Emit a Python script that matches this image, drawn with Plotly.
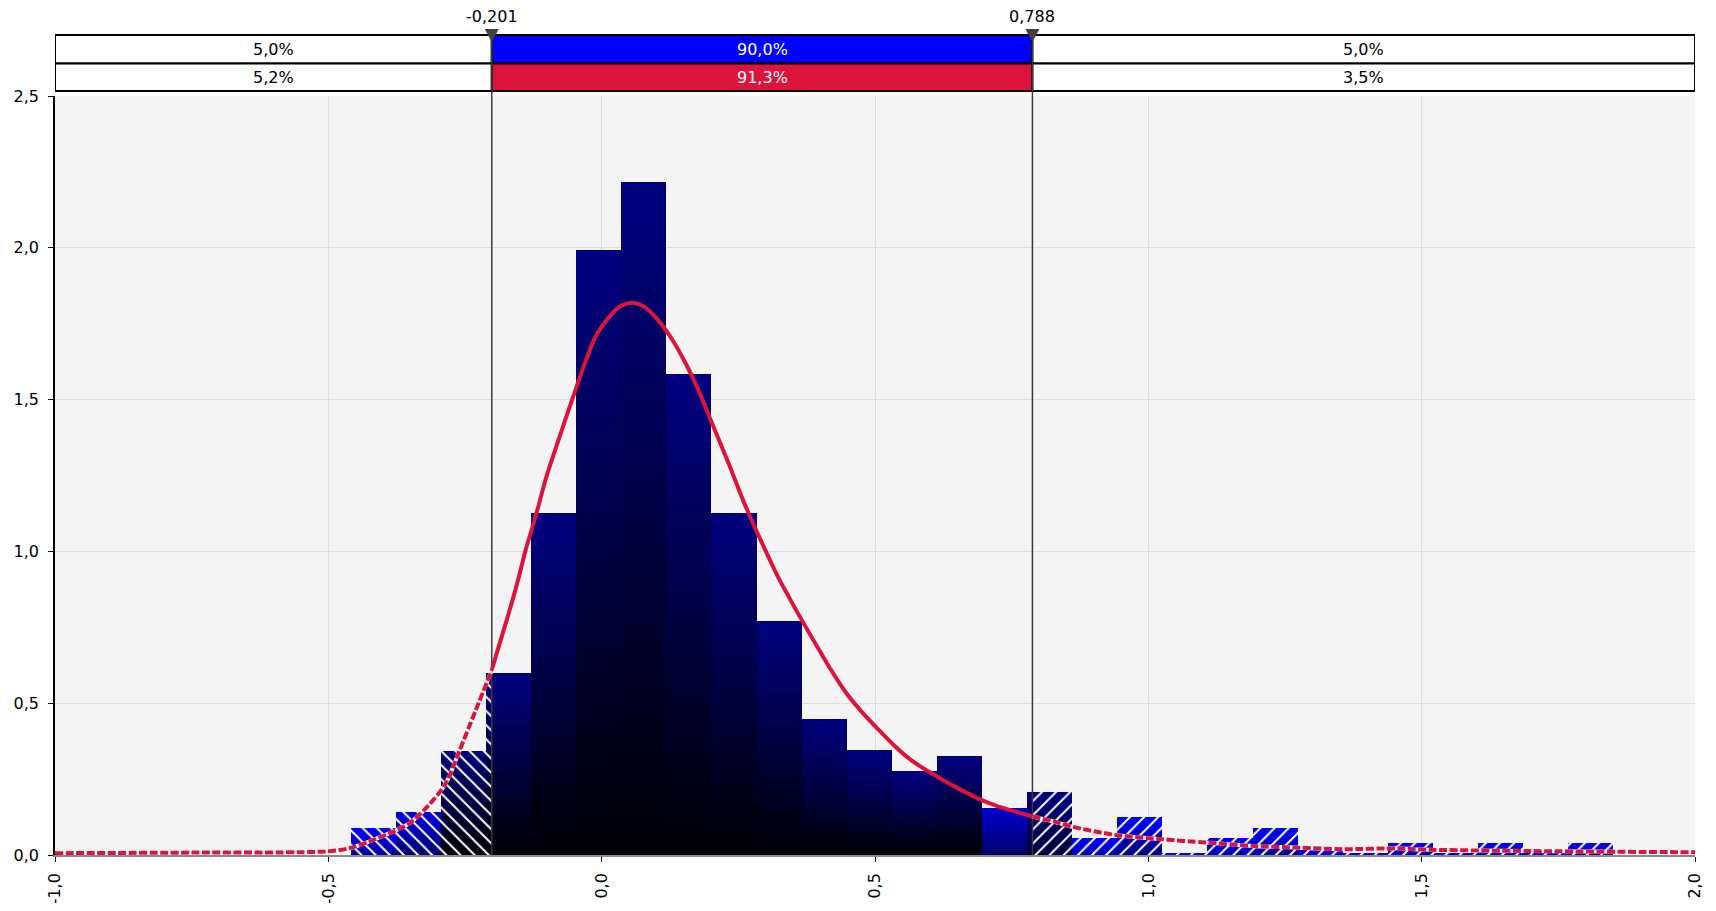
import plotly.graph_objects as go
import numpy as np

# ---------------- data ----------------
bin_left = -0.459
bin_width = 0.08248
bin_heights = [0.088, 0.142, 0.343, 0.600, 1.126, 1.993, 2.217, 1.584, 1.127, 0.771,
               0.448, 0.345, 0.276, 0.326, 0.155, 0.207, 0.057, 0.125, 0.006, 0.056,
               0.088, 0.018, 0.006, 0.040, 0.006, 0.040, 0.006, 0.040]

kde_x = [-1.0, -0.75, -0.5, -0.462, -0.426, -0.389, -0.352, -0.316, -0.285, -0.261,
         -0.231, -0.201, -0.182, -0.166, -0.151, -0.139, -0.121, -0.102, -0.078, -0.054,
         -0.035, -0.011, 0.013, 0.032, 0.056, 0.080, 0.104, 0.129, 0.154, 0.178,
         0.202, 0.233, 0.263, 0.294, 0.324, 0.355, 0.385, 0.416, 0.446, 0.477,
         0.507, 0.538, 0.568, 0.599, 0.629, 0.660, 0.690, 0.721, 0.751, 0.788,
         0.836, 0.861, 0.940, 1.025, 1.105, 1.190, 1.276, 1.355, 1.458, 1.500,
         1.700, 2.000]
kde_y = [0.006, 0.008, 0.012, 0.022, 0.044, 0.071, 0.104, 0.165, 0.236, 0.340,
         0.474, 0.610, 0.724, 0.821, 0.919, 1.005, 1.114, 1.240, 1.372, 1.500,
         1.598, 1.708, 1.770, 1.805, 1.819, 1.803, 1.760, 1.698, 1.618, 1.527,
         1.422, 1.286, 1.150, 1.025, 0.911, 0.809, 0.715, 0.620, 0.537, 0.469,
         0.412, 0.356, 0.310, 0.274, 0.242, 0.212, 0.185, 0.163, 0.146, 0.127,
         0.106, 0.093, 0.066, 0.052, 0.041, 0.030, 0.024, 0.019, 0.022, 0.018,
         0.013, 0.009]

cutoffs = [-0.201, 0.788]
band_row1 = ["5,0%", "90,0%", "5,0%"]
band_row2 = ["5,2%", "91,3%", "3,5%"]
x_ticks = [-1.0, -0.5, 0.0, 0.5, 1.0, 1.5, 2.0]
x_ticktext = ["-1,0", "-0,5", "0,0", "0,5", "1,0", "1,5", "2,0"]
y_ticks = [0.0, 0.5, 1.0, 1.5, 2.0, 2.5]
y_ticktext = ["0,0", "0,5", "1,0", "1,5", "2,0", "2,5"]

# ---------------- styling ----------------
X_MIN, X_MAX = -1.0, 2.0
Y_MAX = 2.5
RED = "#DC143C"
BAND_TOP, BAND_MID, BAND_BOT = 1.0804, 1.0428, 1.0066
FONT = "DejaVu Sans"
FS = 16

fig = go.Figure()

def top_blue(h):
    if h <= 0.13:
        return 255.0
    if h >= 0.2:
        return 128.0
    return 255.0 - 127.0 * (h - 0.13) / 0.07

def bot_blue(h):
    return max(4.0, 230.0 * (1 - h / 0.28))

# gradient bars: nested slices drawn tallest first
N = 32
gx, gy, gc = [], [], []
for i, h in enumerate(bin_heights):
    c = bin_left + (i + 0.5) * bin_width
    tb, bb = top_blue(h), bot_blue(h)
    for k in range(N):
        f = 1 - k / N
        fm = f - 0.5 / N
        b = bb + (tb - bb) * fm
        gx.append(c)
        gy.append(h * f)
        gc.append(f"rgb(0,0,{int(round(b))})")
fig.add_trace(go.Bar(x=gx, y=gy, width=bin_width, marker=dict(color=gc, line_width=0),
                     hoverinfo="skip", showlegend=False))

# hatch overlays for tails
for side, shape in ((0, "\\"), (1, "/")):
    hx, hy, hw = [], [], []
    for i, h in enumerate(bin_heights):
        l = bin_left + i * bin_width
        r = l + bin_width
        if side == 0:
            a, b = l, min(r, cutoffs[0])
        else:
            a, b = max(l, cutoffs[1]), r
        if b > a:
            hx.append((a + b) / 2)
            hy.append(h)
            hw.append(b - a)
    fig.add_trace(go.Bar(x=hx, y=hy, width=hw,
                         marker=dict(color="rgba(0,0,0,0)", line_width=0,
                                     pattern=dict(shape=shape, fgcolor="white", fgopacity=1, size=10,
                                                  solidity=0.2, fillmode="overlay")),
                         hoverinfo="skip", showlegend=False))

# cutoff lines inside plot
for c in cutoffs:
    fig.add_trace(go.Scatter(x=[c, c], y=[0, Y_MAX], mode="lines",
                             line=dict(color="#3a3a3a", width=1.5),
                             hoverinfo="skip", showlegend=False))

# density curve
kx = np.array(kde_x)
ky = np.array(kde_y)
left = kx <= cutoffs[0]
mid = (kx >= cutoffs[0]) & (kx <= cutoffs[1])
right = kx >= cutoffs[1]
for m in (left, right):
    fig.add_trace(go.Scatter(x=kx[m], y=ky[m], mode="lines",
                             line=dict(color="white", width=4, shape="spline", smoothing=0.8),
                             hoverinfo="skip", showlegend=False))
    fig.add_trace(go.Scatter(x=kx[m], y=ky[m], mode="lines",
                             line=dict(color=RED, width=4, dash="8px,2.5px", shape="spline", smoothing=0.8),
                             hoverinfo="skip", showlegend=False))
fig.add_trace(go.Scatter(x=kx[mid], y=ky[mid], mode="lines",
                         line=dict(color=RED, width=4, shape="spline", smoothing=0.8),
                         hoverinfo="skip", showlegend=False))

# band
shapes = []
annotations = []
seg_edges = [X_MIN] + cutoffs + [X_MAX]
row_fill1 = ["white", "#0000FF", "white"]
row_fill2 = ["white", RED, "white"]
for j in range(3):
    a, b = seg_edges[j], seg_edges[j + 1]
    shapes.append(dict(type="rect", xref="x", yref="paper", x0=a, x1=b, y0=BAND_MID, y1=BAND_TOP,
                       fillcolor=row_fill1[j], line=dict(color="black", width=2), layer="above"))
    shapes.append(dict(type="rect", xref="x", yref="paper", x0=a, x1=b, y0=BAND_BOT, y1=BAND_MID,
                       fillcolor=row_fill2[j], line=dict(color="black", width=2), layer="above"))
    tc = "white" if j == 1 else "black"
    annotations.append(dict(x=(a + b) / 2, y=(BAND_MID + BAND_TOP) / 2, xref="x", yref="paper",
                            xanchor="center", yanchor="middle",
                            text=band_row1[j], showarrow=False, font=dict(color=tc, size=FS, family=FONT)))
    annotations.append(dict(x=(a + b) / 2, y=(BAND_BOT + BAND_MID) / 2, xref="x", yref="paper",
                            xanchor="center", yanchor="middle",
                            text=band_row2[j], showarrow=False, font=dict(color=tc, size=FS, family=FONT)))
for c in cutoffs:
    shapes.append(dict(type="line", xref="x", yref="paper", x0=c, x1=c, y0=1.0, y1=BAND_TOP,
                       line=dict(color="#3a3a3a", width=1.5), layer="above"))
    shapes.append(dict(type="path", xref="x", yref="paper", xsizemode="pixel", ysizemode="pixel",
                       xanchor=c, yanchor=BAND_TOP, path="M-7,6 L7,6 L0,-7 Z",
                       fillcolor="#404040", line=dict(width=0), layer="above"))
    annotations.append(dict(x=c, y=BAND_TOP, xref="x", yref="paper", xanchor="center", yanchor="bottom",
                            text=f"{c:.3f}".replace(".", ","), showarrow=False, yshift=7,
                            font=dict(color="black", size=FS, family=FONT)))

# page body has an 8px default margin: size the figure so the plot lands where the reference has it
fig.update_layout(
    width=1700, height=895,
    margin=dict(l=47, r=13, t=88, b=48, autoexpand=False),
    paper_bgcolor="white", plot_bgcolor="#F4F4F4",
    barmode="overlay", bargap=0,
    separators=", ",
    font=dict(family=FONT, size=FS, color="black"),
    shapes=shapes, annotations=annotations,
    showlegend=False,
    xaxis=dict(range=[X_MIN, X_MAX], tickvals=x_ticks, ticktext=x_ticktext, tickangle=-90,
               ticks="outside", ticklen=5, tickcolor="black", showline=True, linecolor="#8a8a8a",
               linewidth=1.5, gridcolor="#DCDCDC", zeroline=False, ticklabelstandoff=5,
               tickfont=dict(size=FS, family=FONT)),
    yaxis=dict(range=[0, Y_MAX], tickvals=y_ticks, ticktext=y_ticktext,
               ticks="outside", ticklen=5, tickcolor="black", showline=True, linecolor="black",
               linewidth=1.5, gridcolor="#DCDCDC", zeroline=False, ticklabelstandoff=6,
               tickfont=dict(size=FS, family=FONT)),
)

fig.write_html("out.html")
